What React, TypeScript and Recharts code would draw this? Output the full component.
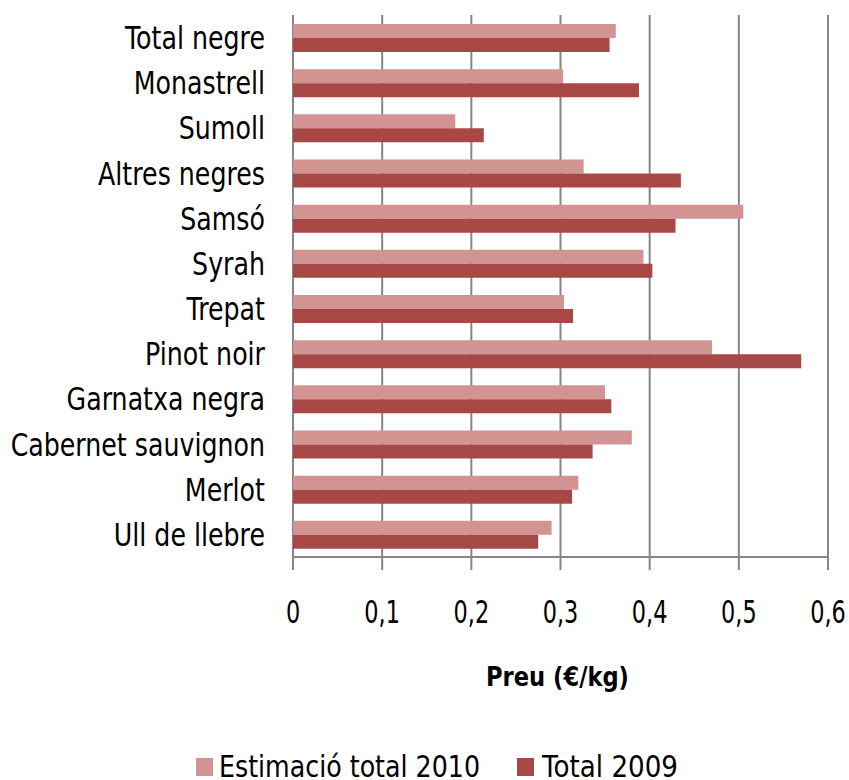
import { BarChart, Bar, XAxis, YAxis, CartesianGrid, Legend, Label } from "recharts";

const varieties = [
  "Total negre",
  "Monastrell",
  "Sumoll",
  "Altres negres",
  "Samsó",
  "Syrah",
  "Trepat",
  "Pinot noir",
  "Garnatxa negra",
  "Cabernet sauvignon",
  "Merlot",
  "Ull de llebre",
];
const estimate2010 = [0.362, 0.303, 0.182, 0.326, 0.505, 0.393, 0.304, 0.47, 0.35, 0.38, 0.32, 0.29];
const total2009 = [0.355, 0.388, 0.214, 0.435, 0.429, 0.403, 0.314, 0.57, 0.357, 0.336, 0.313, 0.275];
const priceTicks = [0, 0.1, 0.2, 0.3, 0.4, 0.5, 0.6];
const boundaryTicks = [0, 1, 2, 3, 4, 5, 6, 7, 8, 9, 10, 11, 12];

const seriesNames = ["Estimació total 2010", "Total 2009"];
const axisTitle = "Preu (€/kg)";
const LIGHT = "#D29393";
const DARK = "#A84846";
const AXIS = "#868686";
const font = "'DejaVu Sans', sans-serif";

const data = varieties.map((name, i) => ({
  name,
  est2010: estimate2010[i],
  tot2009: total2009[i],
}));

const fmt = (v: number) => (v === 0 ? "0" : v.toFixed(1).replace(".", ","));

// the original uses a narrow face, so squeeze DejaVu horizontally
const renderCategoryTick = (props: any) => {
  const { x, y, payload } = props;
  return (
    <g key={`cat-${payload.value}`} transform={`translate(${x},${y}) scale(0.79,1)`}>
      <text textAnchor="end" dy="0.36em" fontSize={32} fill="#000" fontFamily={font}>
        {payload.value}
      </text>
    </g>
  );
};

const renderPriceTick = (props: any) => {
  const { x, y, payload } = props;
  return (
    <g key={`p-${payload.value}`} transform={`translate(${x},${y}) scale(0.7,1)`}>
      <text textAnchor="middle" dy="0.73em" fontSize={32} fill="#000" fontFamily={font}>
        {fmt(payload.value)}
      </text>
    </g>
  );
};

const renderAxisTitle = (props: any) => {
  const { viewBox } = props;
  const cx = viewBox.x + viewBox.width / 2 - 3;
  return (
    <g transform={`translate(${cx},${viewBox.y + 110}) scale(0.87,1)`}>
      <text textAnchor="middle" dy="0.73em" fontSize={26} fontWeight="bold" fill="#000" fontFamily={font}>
        {axisTitle}
      </text>
    </g>
  );
};

const LegendBox = () => (
  <svg width={849} height={40} style={{ display: "block" }}>
    <rect x={196} y={18} width={17} height={18} fill={LIGHT} />
    <text x={219} y={37} fontSize={30} fontFamily={font} textLength={261} lengthAdjust="spacingAndGlyphs" fill="#000">
      {seriesNames[0]}
    </text>
    <rect x={517} y={18} width={17} height={18} fill={DARK} />
    <text x={542} y={37} fontSize={30} fontFamily={font} textLength={136} lengthAdjust="spacingAndGlyphs" fill="#000">
      {seriesNames[1]}
    </text>
  </svg>
);

export default function App() {
  return (
    <div style={{ position: "absolute", left: 0, top: 0, width: 849, height: 780, background: "#fff" }}>
      <BarChart
        width={849}
        height={780}
        data={data}
        layout="vertical"
        margin={{ top: 15, right: 21, left: 0, bottom: 0 }}
        barCategoryGap="20%"
        barGap={0}
      >
        <CartesianGrid yAxisId="cat" horizontal={false} stroke={AXIS} strokeWidth={2} />
        <YAxis
          yAxisId="bounds"
          type="number"
          domain={[0, 12]}
          ticks={boundaryTicks}
          interval={0}
          width={0}
          tick={false}
          tickSize={10}
          axisLine={{ stroke: AXIS, strokeWidth: 2 }}
          tickLine={{ stroke: AXIS, strokeWidth: 2 }}
        />
        <YAxis
          yAxisId="cat"
          type="category"
          dataKey="name"
          width={293}
          interval={0}
          axisLine={false}
          tickLine={false}
          tickSize={0}
          tickMargin={28}
          tick={renderCategoryTick}
        />
        <XAxis
          type="number"
          domain={[0, 0.6]}
          ticks={priceTicks}
          interval={0}
          height={183}
          tickSize={13}
          tickMargin={30}
          axisLine={{ stroke: AXIS, strokeWidth: 2 }}
          tickLine={{ stroke: AXIS, strokeWidth: 2 }}
          tick={renderPriceTick}
        >
          <Label content={renderAxisTitle} />
        </XAxis>
        <Legend verticalAlign="bottom" content={<LegendBox />} wrapperStyle={{ height: 40 }} />
        <Bar yAxisId="cat" dataKey="est2010" name={seriesNames[0]} fill={LIGHT} isAnimationActive={false} />
        <Bar yAxisId="cat" dataKey="tot2009" name={seriesNames[1]} fill={DARK} isAnimationActive={false} />
      </BarChart>
    </div>
  );
}
